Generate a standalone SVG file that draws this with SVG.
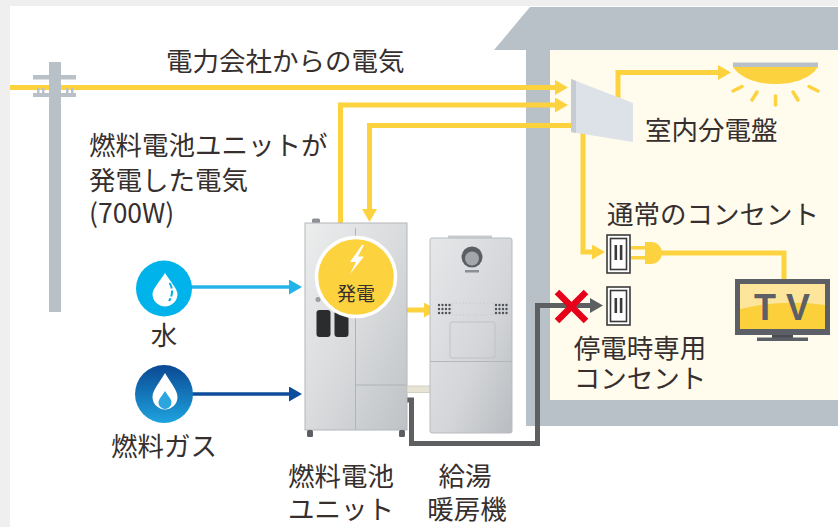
<svg xmlns="http://www.w3.org/2000/svg" width="838" height="527" viewBox="0 0 838 527">
  <style>
    .lbl { font-family: "Noto Sans CJK JP", "Noto Sans", sans-serif; font-size: 26.5px; fill: #362f2d; }
    .mid { text-anchor: middle; }
    .pw { fill: none; stroke: #fdd23f; stroke-width: 5; }
    .gy { fill: none; stroke: #5e5f61; stroke-width: 5; }
    .wall { fill: #b9c1c8; }
    .outlet-box { fill: #ffffff; stroke: #3a3a3a; stroke-width: 1.6; }
    .slot { fill: #3a3a3a; }
  </style>
  <defs>
    <marker id="arrYellow" markerUnits="userSpaceOnUse" markerWidth="14" markerHeight="16" refX="1" refY="7.5" orient="auto">
      <path d="M0,0 L13,7.5 L0,15 Z" fill="#fdd23f"/>
    </marker>
    <marker id="arrGray" markerUnits="userSpaceOnUse" markerWidth="14" markerHeight="16" refX="1" refY="7.5" orient="auto">
      <path d="M0,0 L13,7.5 L0,15 Z" fill="#5e5f61"/>
    </marker>
    <marker id="arrCyan" markerUnits="userSpaceOnUse" markerWidth="14" markerHeight="16" refX="1" refY="7.5" orient="auto">
      <path d="M0,0 L13,7.5 L0,15 Z" fill="#22b4e8"/>
    </marker>
    <marker id="arrNavy" markerUnits="userSpaceOnUse" markerWidth="14" markerHeight="16" refX="1" refY="7.5" orient="auto">
      <path d="M0,0 L13,7.5 L0,15 Z" fill="#0d4c9c"/>
    </marker>
    <linearGradient id="gasGrad" x1="0" y1="0" x2="0" y2="1">
      <stop offset="0" stop-color="#0a4893"/>
      <stop offset="1" stop-color="#1ea3de"/>
    </linearGradient>
    <linearGradient id="metal" x1="0" y1="0" x2="1" y2="1">
      <stop offset="0" stop-color="#eceded"/>
      <stop offset="0.5" stop-color="#d9dbdd"/>
      <stop offset="1" stop-color="#bfc2c5"/>
    </linearGradient>
    <linearGradient id="metal2" x1="0" y1="0" x2="1" y2="1">
      <stop offset="0" stop-color="#e6e7e9"/>
      <stop offset="0.6" stop-color="#d3d5d8"/>
      <stop offset="1" stop-color="#b9bcc0"/>
    </linearGradient>
  </defs>

  <!-- page -->
  <rect x="0" y="0" width="838" height="527" fill="#efefef"/>
  <rect x="10" y="6" width="828" height="521" fill="#ffffff"/>

  <!-- house -->
  <g id="house">
    <rect x="550" y="50" width="288" height="350" fill="#fffcee"/>
    <polygon class="wall" points="530,7 838,7 838,50 494,50"/>
    <rect class="wall" x="526" y="50" width="24" height="376"/>
    <rect class="wall" x="526" y="400" width="312" height="26"/>
  </g>

  <!-- connectors -->
  <g id="connectors">
    <!-- grid power -->
    <path class="pw" d="M10,87.5 H556" marker-end="url(#arrYellow)"/>
    <!-- fuel cell output to panel -->
    <path class="pw" d="M340.5,225 V105 H556" marker-end="url(#arrYellow)"/>
    <!-- panel back to fuel cell -->
    <path class="pw" d="M572,125.5 H369.5 V210" marker-end="url(#arrYellow)"/>
    <!-- panel to ceiling light -->
    <path class="pw" d="M618,110 V72.5 H719" marker-end="url(#arrYellow)"/>
    <!-- panel to regular outlet -->
    <path class="pw" d="M583,125 V252 H593" marker-end="url(#arrYellow)"/>
    <!-- heat to water heater -->
    <path class="pw" d="M405,310 H425" marker-end="url(#arrYellow)"/>
    <!-- plug cord to TV -->
    <path class="pw" d="M658,253 H784 V281"/>
    <!-- water and gas supply -->
    <path d="M190,287 H290" fill="none" stroke="#22b4e8" stroke-width="3.5" marker-end="url(#arrCyan)"/>
    <path d="M190,394 H290" fill="none" stroke="#0d4c9c" stroke-width="3.5" marker-end="url(#arrNavy)"/>
    <!-- standalone line to the backup outlet -->
    <path class="gy" d="M405,400 H411.5 V443.5 H537.5 V305.5 H591" marker-end="url(#arrGray)"/>
  </g>

  <!-- utility pole -->
  <g id="pole" fill="#b9c1c8">
    <rect x="49" y="62" width="12" height="250"/>
    <rect x="33" y="75" width="43" height="4.5"/>
    <rect x="33" y="93" width="43" height="4"/>
    <rect x="37" y="88" width="2.5" height="5"/>
    <rect x="42" y="88" width="2.5" height="5"/>
    <rect x="66" y="88" width="2.5" height="5"/>
    <rect x="71" y="88" width="2.5" height="5"/>
  </g>

  <!-- distribution board -->
  <g id="panel">
    <polygon points="571,79 633,103 633,142 571,132" fill="#dde2e8"/>
    <polygon points="571,79 576,81 576,133 571,132" fill="#c6ccd3"/>
    <text class="lbl" x="645" y="140">室内分電盤</text>
  </g>

  <!-- ceiling light -->
  <g id="light">
    <rect x="733" y="62.5" width="85" height="4.5" fill="#b9c1c8"/>
    <path d="M733,67 C742,80 760,84 775.5,84 C791,84 809,80 818,67 Z" fill="#fdd23f"/>
    <g stroke="#fdd23f" stroke-width="3.5" stroke-linecap="round">
      <line x1="733" y1="91" x2="742" y2="86.5"/>
      <line x1="752" y1="100" x2="757" y2="92"/>
      <line x1="775.5" y1="105" x2="775.5" y2="96"/>
      <line x1="798" y1="100" x2="793" y2="92"/>
      <line x1="818" y1="91" x2="809" y2="86.5"/>
    </g>
  </g>

  <!-- regular outlet with plug -->
  <g id="outlet-normal">
    <rect class="outlet-box" x="607" y="235" width="23" height="38"/>
    <rect class="outlet-box" x="610.5" y="238.5" width="16" height="31"/>
    <rect class="slot" x="614.5" y="245" width="2.6" height="15"/>
    <rect class="slot" x="619.8" y="245" width="2.6" height="15"/>
    <rect x="631" y="246" width="15" height="3.5" fill="#fdd23f"/>
    <rect x="631" y="256" width="15" height="3.5" fill="#fdd23f"/>
    <path d="M645,242 H651 A11,11 0 0 1 651,264 H645 Z" fill="#fdd23f"/>
    <text class="lbl" x="607" y="224">通常のコンセント</text>
  </g>

  <!-- backup outlet -->
  <g id="outlet-backup">
    <rect class="outlet-box" x="607" y="287" width="23" height="38"/>
    <rect class="outlet-box" x="610.5" y="290.5" width="16" height="31"/>
    <rect class="slot" x="614.5" y="298" width="2.6" height="15"/>
    <rect class="slot" x="619.8" y="298" width="2.6" height="15"/>
    <g stroke="#e60019" stroke-width="6.5">
      <line x1="557" y1="292" x2="586" y2="321"/>
      <line x1="586" y1="292" x2="557" y2="321"/>
    </g>
    <text class="lbl mid" y="358"><tspan x="640">停電時専用</tspan><tspan x="640" dy="30">コンセント</tspan></text>
  </g>

  <!-- television -->
  <g id="tv">
    <rect x="735" y="279" width="95" height="56" fill="#5c6066"/>
    <rect x="740" y="284" width="85" height="45" fill="#fde59b"/>
    <path d="M740,309 Q782,299 825,305 V329 H740 Z" fill="#fbd03b"/>
    <rect x="772" y="335" width="21" height="3" fill="#4a4e53"/>
    <rect x="757" y="337.5" width="51" height="3.5" fill="#5c6066"/>
    <text x="782" y="320" text-anchor="middle" font-family="Liberation Sans, Arial, sans-serif" font-weight="bold" font-size="36" fill="#5c6066">T V</text>
  </g>

  <!-- water supply -->
  <g id="water">
    <circle cx="164" cy="288.5" r="28" fill="#00b3ea"/>
    <path d="M165,273 C160,281 152.5,289 152.5,294 A12.5,12.5 0 0 0 177.5,294 C177.5,289 170,281 165,273 Z" fill="#ffffff"/>
    <path d="M169.5,283 C173,288 173,295 169,301" fill="none" stroke="#00b3ea" stroke-width="2" stroke-dasharray="6,2"/>
    <text class="lbl mid" x="164" y="345">水</text>
  </g>

  <!-- fuel gas supply -->
  <g id="gas">
    <circle cx="164" cy="394" r="29" fill="url(#gasGrad)"/>
    <path d="M165,373 C160,382 152.5,390 152.5,397 A12.5,12.5 0 0 0 177.5,397 C177.5,390 170,382 165,373 Z" fill="#ffffff"/>
    <path d="M165,391 C162,396 158.5,399 158.5,402.5 A6.5,6.5 0 0 0 171.5,402.5 C171.5,399 168,396 165,391 Z" fill="#2aa5de"/>
    <text class="lbl mid" x="164" y="456">燃料ガス</text>
  </g>

  <!-- fuel cell unit -->
  <g id="fuel-cell">
    <rect x="312" y="218.5" width="8" height="5" rx="1.5" fill="#8d9196"/>
    <rect x="305" y="223" width="102" height="207" fill="url(#metal)" stroke="#b3b6ba" stroke-width="1"/>
    <line x1="355.5" y1="228" x2="355.5" y2="430" stroke="#b0b3b7" stroke-width="1"/>
    <line x1="355.5" y1="385" x2="407" y2="385" stroke="#b0b3b7" stroke-width="1"/>
    <rect x="307" y="430" width="6" height="7" rx="1.5" fill="#5a5d61"/>
    <rect x="399" y="430" width="6" height="7" rx="1.5" fill="#5a5d61"/>
    <circle cx="318" cy="299.5" r="2.5" fill="#9a9da1"/>
    <rect x="316.5" y="310" width="14" height="27" rx="3" fill="#2b2c2e"/>
    <rect x="334.5" y="310" width="14" height="27" rx="3" fill="#2b2c2e"/>
    <circle cx="356" cy="277" r="39.5" fill="#fdd23f" stroke="#ffffff" stroke-width="3.5"/>
    <polygon points="362,245 350,262 356,262 350,274 364,256.5 358,256.5 364,245" fill="#ffffff"/>
    <text x="356" y="301" text-anchor="middle" font-family="Noto Sans CJK JP, sans-serif" font-size="19" fill="#362f2d">発電</text>
    <text class="lbl mid" y="486"><tspan x="341">燃料電池</tspan><tspan x="341" dy="33">ユニット</tspan></text>
  </g>

  <!-- hot water / heating unit -->
  <g id="water-heater">
    <rect x="407" y="386" width="25" height="6.5" fill="#e8e4d5" stroke="#cdc8b8" stroke-width="0.8"/>
    <rect x="448" y="235.5" width="44" height="3" fill="#c9ccd0"/>
    <rect x="430" y="238" width="82" height="195" rx="2" fill="url(#metal2)" stroke="#b8bbbf" stroke-width="1"/>
    <circle cx="472" cy="257" r="10.5" fill="#5b5e62"/>
    <circle cx="472" cy="258.5" r="7" fill="#a3a6aa"/>
    <rect x="465" y="270" width="14" height="2.5" fill="#8c9094"/>
    <g fill="#4d5054">
      <circle cx="439" cy="305" r="1.2"/><circle cx="442.5" cy="305" r="1.2"/><circle cx="446" cy="305" r="1.2"/><circle cx="449.5" cy="305" r="1.2"/>
      <circle cx="439" cy="309" r="1.2"/><circle cx="442.5" cy="309" r="1.2"/><circle cx="446" cy="309" r="1.2"/><circle cx="449.5" cy="309" r="1.2"/>
      <circle cx="439" cy="313" r="1.2"/><circle cx="442.5" cy="313" r="1.2"/><circle cx="446" cy="313" r="1.2"/><circle cx="449.5" cy="313" r="1.2"/>
      <circle cx="496" cy="305" r="1.2"/><circle cx="499.5" cy="305" r="1.2"/><circle cx="503" cy="305" r="1.2"/><circle cx="506.5" cy="305" r="1.2"/>
      <circle cx="496" cy="309" r="1.2"/><circle cx="499.5" cy="309" r="1.2"/><circle cx="503" cy="309" r="1.2"/><circle cx="506.5" cy="309" r="1.2"/>
      <circle cx="496" cy="313" r="1.2"/><circle cx="499.5" cy="313" r="1.2"/><circle cx="503" cy="313" r="1.2"/><circle cx="506.5" cy="313" r="1.2"/>
    </g>
    <rect x="452" y="303" width="42" height="12" fill="none" stroke="#c3c6ca" stroke-width="0.8" stroke-dasharray="1.5,2"/>
    <rect x="450" y="322" width="45" height="36" rx="2" fill="none" stroke="#bfc2c6" stroke-width="1"/>
    <line x1="430" y1="361.5" x2="512" y2="361.5" stroke="#b3b6ba" stroke-width="1.2"/>
    <text class="lbl mid" y="486"><tspan x="465">給湯</tspan><tspan x="467" dy="33">暖房機</tspan></text>
  </g>

  <!-- labels for the power flows -->
  <g id="flow-labels">
    <text class="lbl" x="166" y="71" font-size="27">電力会社からの電気</text>
    <text class="lbl" y="155"><tspan x="89">燃料電池ユニットが</tspan><tspan x="89" dy="35">発電した電気</tspan><tspan x="89" dy="33">(700W)</tspan></text>
  </g>
</svg>
